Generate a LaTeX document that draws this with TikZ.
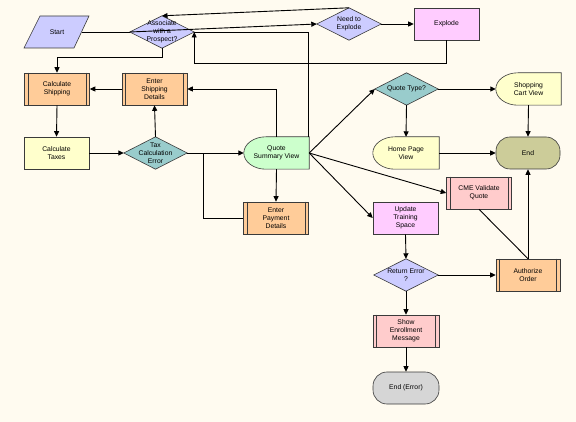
\documentclass[tikz,border=0pt]{standalone}
\usepackage{fontspec}
\setmainfont{Liberation Sans}
\usetikzlibrary{arrows.meta,backgrounds}
\definecolor{bg}{HTML}{FFFBF0}
\definecolor{lav}{HTML}{CCCCFF}
\definecolor{pinkv}{HTML}{FFCCFF}
\definecolor{orng}{HTML}{FFCC99}
\definecolor{yel}{HTML}{FFFFCC}
\definecolor{teal}{HTML}{99CCCC}
\definecolor{mint}{HTML}{CCFFCC}
\definecolor{olive}{HTML}{CCCC99}
\definecolor{pinkr}{HTML}{FFCCCC}
\definecolor{greyt}{HTML}{D6D6D6}
\definecolor{edge}{HTML}{3A3A3A}
\newcommand\fs{\fontsize{6.8}{8}\selectfont}
\newcommand\diamshape[2]{\filldraw[shapeline, fill=#2] (#1.north) -- (#1.east) -- (#1.south) -- (#1.west) -- cycle;}
\newcommand\dispshape[2]{\filldraw[shapeline, fill=#2] (#1.north east) -- ([xshift=22]#1.north west) .. controls ([xshift=9.85]#1.north west) and ([yshift=8.84]#1.west) .. (#1.west) .. controls ([yshift=-8.84]#1.west) and ([xshift=9.85]#1.south west) .. ([xshift=22]#1.south west) -- (#1.south east) -- cycle;}
\newcommand\proclines[1]{\draw[shapeline] ([xshift=4]#1.north west) -- ([xshift=4]#1.south west) ([xshift=-4]#1.north east) -- ([xshift=-4]#1.south east);}
\tikzset{
  base/.style={minimum width=65, minimum height=32, inner sep=0, align=center, font=\fs, text=black},
  box/.style={base, draw=edge, line width=0.6pt, fill=#1},
  procbox/.style={box=#1},
  term/.style={base, draw=edge, line width=0.6pt, fill=#1, rounded corners=14},
  shapeline/.style={draw=edge, line width=0.6pt},
  conn/.style={line width=0.9pt, black},
}
\begin{document}
\begin{tikzpicture}[x=1pt,y=-1pt, >={Triangle[length=5.5pt,width=5pt]}]
\useasboundingbox (0,0) rectangle (576,422);
% nodes
\node[base, minimum width=49] (start) at (57,32) {Start};
\node[base, minimum width=64] (assoc) at (162,32) {Associate\\with a\\Prospect?};
\node[base, minimum width=64] (need) at (349,24) {Need to\\Explode};
\node[box=pinkv] (explode) at (446.5,24) {Explode};
\node[procbox=orng] (cship) at (57,89) {Calculate\\Shipping};
\node[procbox=orng] (eship) at (154.5,89) {Enter\\Shipping\\Details};
\node[box=yel] (ctax) at (56.5,153) {Calculate\\Taxes};
\node[base, minimum width=63] (tax) at (155.5,153) {Tax\\Calculation\\Error};
\node[base] (qsv) at (276.5,153) {Quote\\Summary View};
\node[procbox=orng] (epay) at (276,218) {Enter\\Payment\\Details};
\node[base, minimum width=63] (qtype) at (406.5,89) {Quote Type?};
\node[base] (shop) at (528.5,89) {Shopping\\Cart View};
\node[base, minimum width=66] (home) at (406,153) {Home Page\\View};
\node[term=olive, minimum width=64] (end) at (528,153) {End};
\node[procbox=pinkr] (cme) at (479,193) {CME Validate\\Quote};
\node[box=pinkv] (upd) at (405.5,218) {Update\\Training\\Space};
\node[base, minimum width=64] (ret) at (406,275) {Return Error\\?};
\node[procbox=orng, minimum width=64] (auth) at (528,275) {Authorize\\Order};
\node[procbox=pinkr, minimum width=66] (sem) at (406,331) {Show\\Enrollment\\Message};
\node[term=greyt, minimum width=66] (enderr) at (406,388) {End (Error)};
% shapes behind text
\begin{scope}[on background layer]
  \fill[bg] (0,0) rectangle (576,422);
  \filldraw[shapeline, fill=lav] (40,16) -- (89,16) -- (74,48) -- (24,48) -- cycle;
  \diamshape{assoc}{lav}
  \diamshape{need}{lav}
  \diamshape{tax}{teal}
  \diamshape{qtype}{teal}
  \diamshape{ret}{lav}
  \dispshape{qsv}{mint}
  \dispshape{shop}{yel}
  \dispshape{home}{yel}
\end{scope}
\foreach \n in {cship,eship,epay,cme,auth,sem} {\proclines{\n}}
% connectors
\begin{scope}[conn]
\draw (start.east) -- (assoc.west);
\draw[->] (assoc.west) -- (need.west);
\draw[->] (need.north) -- (assoc.north);
\draw[->] (need.east) -- (explode.west);
\draw[->] (explode.south) -- ++(0,23) -| (assoc.east);
\draw ([xshift=-1]qsv.north east) |- (assoc.east);
\draw[->] (assoc.south) -- ++(0,9) -| (cship.north);
\draw[->] (eship.west) -- (cship.east);
\draw[->] (cship.south) -- (ctax.north);
\draw[->] (ctax.east) -- (tax.west);
\draw[->] (tax.north) -- (eship.south);
\draw[->] (qsv.north) |- (eship.east);
\draw[->] (tax.east) -- (qsv.west);
\draw (epay.west) -| ([xshift=16]tax.east);
\draw[->] (qsv.south) -- (epay.north);
\draw[->] (qsv.east) -- (qtype.west);
\draw[->] (qsv.east) -- (cme.west);
\draw[->] (qsv.east) -- (upd.west);
\draw[->] (qtype.east) -- (shop.west);
\draw[->] (qtype.south) -- (home.north);
\draw[->] (home.east) -- (end.west);
\draw[->] (shop.south) -- (end.north);
\draw[->] (auth.north) -- (end.south);
\draw (cme.south) -- (auth.north);
\draw[->] (upd.south) -- (ret.north);
\draw[->] (ret.east) -- (auth.west);
\draw[->] (ret.south) -- (sem.north);
\draw[->] (sem.south) -- (enderr.north);
\end{scope}
\end{tikzpicture}
\end{document}
